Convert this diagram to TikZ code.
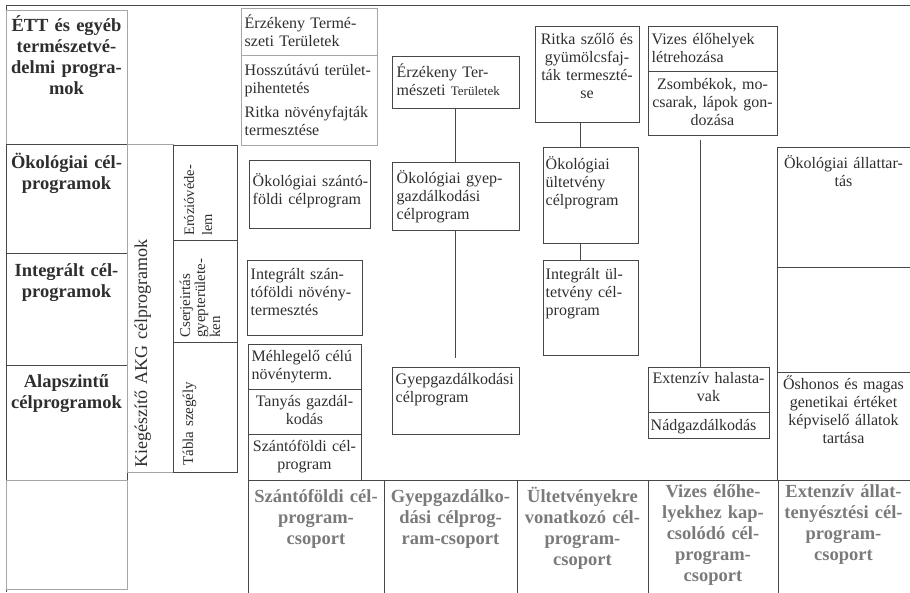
\documentclass[tikz,border=0pt]{standalone}
\usepackage{fontspec}
\setmainfont{Liberation Serif}
\usetikzlibrary{positioning, fit, calc}

\begin{document}
\begin{tikzpicture}[x=1pt, y=-1pt,
            cell/.style={draw=black!72, line width=1pt, inner sep=0pt},
            pale/.style={cell, draw=black!35},
            txt/.style={font=\fontsize{16}{18}\selectfont, text=black!82, inner sep=0pt, text width=140pt, align=left, anchor=base west},
            ctxt/.style={txt, align=center, anchor=base},
            head/.style={font=\fontsize{18.5}{21}\selectfont\bfseries, text=black!82, inner sep=0pt, text width=140pt, align=center, anchor=base},
            grouphead/.style={head, text=black!52},
            vtxt/.style={txt, rotate=90},
            link/.style={draw=black!72, line width=1pt}]

            \useasboundingbox (0,0) rectangle (910,592);
            \draw[link] (6,592) -- (6,5) -- (914,5);

            % level column
            \node[pale, fit={(6,10) (127,144)}] (ett) {};
            \node[cell, fit={(6,144) (127,253)}] (oko) {};
            \node[cell, fit={(6,253) (127,365)}] (integ) {};
            \node[cell, fit={(6,365) (127,480)}] (alap) {};
            \node[pale, fit={(6,480) (127,589)}] (ures1) {};
            \node[head] (ett-t) at ([shift={(0,22)}]ett.north) {ÉTT és egyéb\\természetvé-\\delmi progra-\\mok};
            \node[head] (oko-t) at ([shift={(0,25)}]oko.north) {Ökológiai cél-\\programok};
            \node[head] (integ-t) at ([shift={(0,24)}]integ.north) {Integrált cél-\\programok};
            \node[head] (alap-t) at ([shift={(0,23)}]alap.north) {Alapszintű\\célprogramok};

            % kiegeszito AKG
            \node[pale, fit={(127,144) (173,472)}] (akg) {};
            \node[cell, fit={(173,145) (237,240)}] (erozio) {};
            \node[cell, fit={(173,240) (237,342)}] (cserje) {};
            \node[cell, fit={(173,342) (237,472)}] (tabla) {};
            \node[vtxt, font=\fontsize{18}{20}\selectfont, text width=300pt] (akg-t) at (147,468) {Kiegészítő AKG célprogramok};
            \node[vtxt, font=\fontsize{14.5}{18}\selectfont] (erozio-t) at (194,236) {Erózióvéde-\\lem};
            \node[vtxt, font=\fontsize{15}{15}\selectfont] (cserje-t) at (190,338) {Cserjeirtás\\gyepterülete-\\ken};
            \node[vtxt, font=\fontsize{15}{18}\selectfont] (tabla-t) at (193,466) {Tábla szegély};

            % szantofold
            \node[pale, fit={(241,8) (377,55)}] (ert1) {};
            \node[pale, fit={(241,55) (377,145)}] (pihen) {};
            \node[cell, fit={(249,160) (370,228)}] (okoszf) {};
            \node[cell, fit={(247,260) (362,335)}] (intszf) {};
            \node[cell, fit={(248,344) (361,389)}] (mehleg) {};
            \node[cell, fit={(248,389) (361,434)}] (tanyas) {};
            \node[cell, fit={(248,434) (361,480)}] (szfcp) {};
            \node[txt] (ert1-t) at ([shift={(4,21)}]ert1.north west) {Érzékeny Termé-\\szeti Területek};
            \node[txt] (pihen-t) at ([shift={(4,21)}]pihen.north west) {Hosszútávú terület-\\pihentetés\\[6pt]Ritka növényfajták\\termesztése};
            \node[txt] (okoszf-t) at ([shift={(4,27)}]okoszf.north west) {Ökológiai szántó-\\földi célprogram};
            \node[txt] (intszf-t) at ([shift={(4,20)}]intszf.north west) {Integrált szán-\\tóföldi növény-\\termesztés};
            \node[txt] (mehleg-t) at ([shift={(4,18)}]mehleg.north west) {Méhlegelő célú\\növényterm.};
            \node[ctxt] (tanyas-t) at ([shift={(0,18)}]tanyas.north) {Tanyás gazdál-\\kodás};
            \node[ctxt] (szfcp-t) at ([shift={(0,18)}]szfcp.north) {Szántóföldi cél-\\program};

            % gyep
            \node[cell, fit={(392,56) (519,108)}] (ert2) {};
            \node[cell, fit={(392,162) (519,230)}] (okogy) {};
            \node[cell, fit={(392,367) (519,434)}] (gyepcp) {};
            \node[txt] (ert2-t) at ([shift={(5,22)}]ert2.north west) {Érzékeny Ter-\\mészeti {\fontsize{13}{18}\selectfont Területek}};
            \node[txt] (okogy-t) at ([shift={(5,22)}]okogy.north west) {Ökológiai gyep-\\gazdálkodási\\célprogram};
            \node[txt] (gyepcp-t) at ([shift={(4,18)}]gyepcp.north west) {Gyepgazdálkodási\\célprogram};
            \draw[link] (ert2) -- (okogy);
            \draw[link, shorten >=9pt] (okogy) -- (gyepcp);

            % ultetveny
            \node[cell, fit={(535,26) (639,122)}] (ritka) {};
            \node[cell, fit={(543,147) (638,243)}] (okoult) {};
            \node[cell, fit={(543,260) (638,355)}] (intult) {};
            \node[ctxt] (ritka-t) at ([shift={(0,19)}]ritka.north) {Ritka szőlő és\\gyümölcsfaj-\\ták termeszté-\\se};
            \node[txt] (okoult-t) at ([shift={(3,23)}]okoult.north west) {Ökológiai\\ültetvény\\célprogram};
            \node[txt] (intult-t) at ([shift={(3,20)}]intult.north west) {Integrált ül-\\tetvény cél-\\program};
            \draw[link] ([xshift=-10pt]okoult.north |- ritka.south) -- ([xshift=-10pt]okoult.north);
            \draw[link] ([xshift=-10pt]intult.north |- okoult.south) -- ([xshift=-10pt]intult.north);

            % vizes
            \node[cell, fit={(648,26) (777,71)}] (vizes) {};
            \node[cell, fit={(648,71) (777,135)}] (zsomb) {};
            \node[cell, fit={(648,367) (769,412)}] (halas) {};
            \node[cell, fit={(648,412) (769,438)}] (nad) {};
            \node[txt] (vizes-t) at ([shift={(4,19)}]vizes.north west) {Vizes élőhelyek\\létrehozása};
            \node[ctxt] (zsomb-t) at ([shift={(0,19)}]zsomb.north) {Zsombékok, mo-\\csarak, lápok gon-\\dozása};
            \node[ctxt] (halas-t) at ([shift={(0,17)}]halas.north) {Extenzív halasta-\\vak};
            \node[txt] (nad-t) at ([shift={(3,19)}]nad.north west) {Nádgazdálkodás};
            \draw[link, shorten <=4pt] ([xshift=-8pt]halas.north |- zsomb.south) -- ([xshift=-8pt]halas.north);

            % allattartas
            \node[cell, fit={(777,147) (914,267)}] (okoall) {};
            \node[cell, fit={(777,267) (914,372)}] (ures2) {};
            \node[cell, fit={(777,372) (914,480)}] (oshon) {};
            \node[ctxt] (okoall-t) at ([shift={(67,22)}]okoall.north west) {Ökológiai állattar-\\tás};
            \node[ctxt] (oshon-t) at ([shift={(67,18)}]oshon.north west) {Őshonos és magas\\genetikai értéket\\képviselő állatok\\tartása};

            % celprogram-csoportok
            \node[cell, fit={(248,480) (384,598)}] (grp1) {};
            \node[cell, fit={(384,480) (517,598)}] (grp2) {};
            \node[cell, fit={(517,480) (648,598)}] (grp3) {};
            \node[cell, fit={(648,480) (778,598)}] (grp4) {};
            \node[cell, fit={(778,480) (914,598)}] (grp5) {};
            \node[grouphead] (grp1-t) at ([shift={(0,23)}]grp1.north) {Szántóföldi cél-\\program-\\csoport};
            \node[grouphead] (grp2-t) at ([shift={(0,23)}]grp2.north) {Gyepgazdálko-\\dási célprog-\\ram-csoport};
            \node[grouphead] (grp3-t) at ([shift={(0,23)}]grp3.north) {Ültetvényekre\\vonatkozó cél-\\program-\\csoport};
            \node[grouphead] (grp4-t) at ([shift={(0,18)}]grp4.north) {Vizes élőhe-\\lyekhez kap-\\csolódó cél-\\program-\\csoport};
            \node[grouphead] (grp5-t) at ([shift={(66,18)}]grp5.north west) {Extenzív állat-\\tenyésztési cél-\\program-\\csoport};
        \end{tikzpicture}
\end{document}
